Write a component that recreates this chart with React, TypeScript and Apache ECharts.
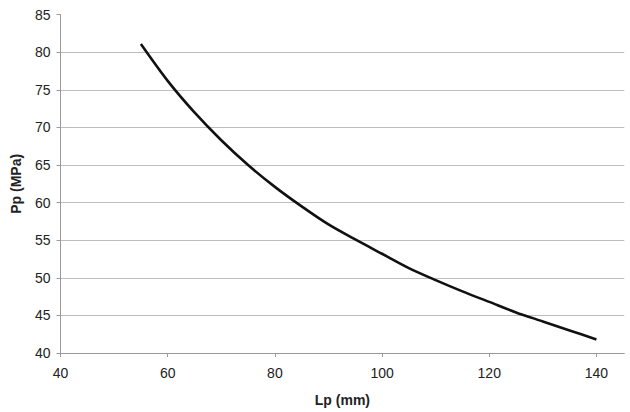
import React, { useEffect, useRef } from "react";
import * as echarts from "echarts";

const lpValues = [55, 60, 65, 70, 75, 80, 85, 90, 95, 100, 105, 110, 115, 120, 125, 130, 135, 140];
const ppValues = [81.1, 76.2, 72.0, 68.3, 65.0, 62.1, 59.5, 57.1, 55.1, 53.2, 51.3, 49.7, 48.2, 46.8, 45.4, 44.2, 43.0, 41.8];
const xTicks = [40, 60, 80, 100, 120, 140];
const xTitle = "Lp (mm)";
const yTitle = "Pp (MPa)";

export default function App() {
  const ref = useRef<HTMLDivElement>(null);
  useEffect(() => {
    if (!ref.current) return;
    const chart = echarts.init(ref.current, null, { renderer: "svg" });
    const font = "Liberation Sans, Arial, sans-serif";
    chart.setOption({
      animation: false,
      backgroundColor: "#ffffff",
      grid: { left: 60.5, right: 5.7, top: 14.7, bottom: 59, containLabel: false },
      xAxis: {
        type: "value",
        min: 40,
        max: 145.2,
        interval: 20,
        name: xTitle,
        nameLocation: "middle",
        nameGap: 40,
        nameTextStyle: { fontFamily: font, fontSize: 14, fontWeight: "bold", color: "#222" },
        axisLine: { show: true, lineStyle: { color: "#9a9a9a", width: 1 } },
        axisTick: { show: true, length: 4, customValues: xTicks, lineStyle: { color: "#9a9a9a" } },
        axisLabel: { customValues: xTicks, margin: 13, fontFamily: font, fontSize: 14, color: "#222" },
        splitLine: { show: false },
      },
      yAxis: {
        type: "value",
        min: 40,
        max: 85,
        interval: 5,
        name: yTitle,
        nameLocation: "middle",
        nameGap: 38,
        nameRotate: 90,
        nameTextStyle: { fontFamily: font, fontSize: 14, fontWeight: "bold", color: "#222" },
        axisLine: { show: true, lineStyle: { color: "#9a9a9a", width: 1 } },
        axisTick: { show: true, length: 4, lineStyle: { color: "#9a9a9a" } },
        axisLabel: { margin: 10, fontFamily: font, fontSize: 14, color: "#222" },
        splitLine: { show: true, showMinLine: false, showMaxLine: false, lineStyle: { color: "#bdbdbd", width: 1 } },
      },
      series: [
        {
          type: "line",
          data: lpValues.map((x, i) => [x, ppValues[i]]),
          showSymbol: false,
          smooth: 0.3,
          lineStyle: { color: "#111111", width: 2.6 },
        },
      ],
    });
    return () => chart.dispose();
  }, []);
  return <div ref={ref} style={{ width: 630, height: 412, position: "absolute", left: 0, top: 0 }} />;
}
